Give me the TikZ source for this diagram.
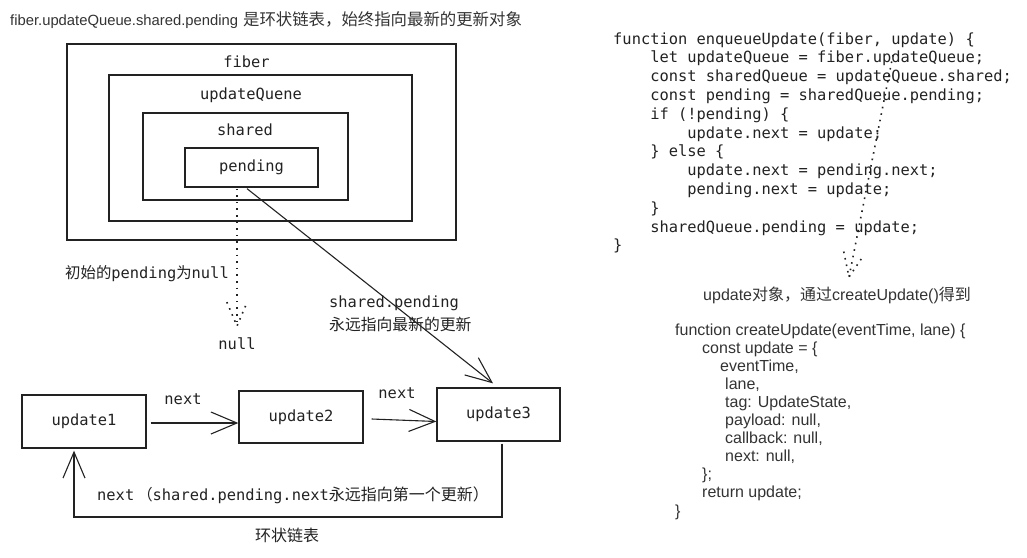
\documentclass[tikz,border=0pt]{standalone}
\usepackage{fontspec}
\setmainfont{Liberation Sans}
\setmonofont{DejaVu Sans Mono}
\newfontfamily\cjk{Noto Sans CJK SC}
\usetikzlibrary{arrows.meta,calc}
\definecolor{ink}{HTML}{222222}
\definecolor{txt}{HTML}{333333}
\begin{document}
\begin{tikzpicture}[x=1pt,y=-1pt,
  box/.style={draw=ink, line width=1.3pt, inner sep=0pt},
  mono/.style={font=\ttfamily\fontsize{15.4}{18}\selectfont, text=ink, inner sep=0pt},
  sans/.style={font=\fontsize{16}{18}\selectfont, text=txt, inner sep=0pt},
  codeline/.style={mono, anchor=west, text height=11pt, text depth=3pt},
  sline/.style={sans, anchor=west, text height=11pt, text depth=3pt},
  arr/.style={draw=ink, line width=1.1pt, -{Straight Barb[length=26pt,width=22pt]}},
  dots/.style={draw=ink, line width=1.6pt, dash pattern=on 1.6pt off 5pt},
]
\useasboundingbox (0,0) rectangle (1027,557);

% title
\node[sans, anchor=west, font=\fontsize{14.8}{18}\selectfont] (title) at (10,20)
  {fiber.updateQueue.shared.pending\hspace{5pt}{\cjk\fontsize{16.4}{18}\selectfont 是环状链表，始终指向最新的更新对象}};

% nested boxes
\node[box, minimum width=389pt, minimum height=196pt] (fiber) at (261.5,142) {};
\node[box, minimum width=303pt, minimum height=146pt] (queue) at (260.5,148) {};
\node[box, minimum width=205pt, minimum height=87pt] (shared) at (245.5,156.5) {};
\node[box, mono, minimum width=133pt, minimum height=39pt] (pending) at (251.5,167.5) {pending};
\node[mono] (fiberlbl) at (246.5,62) {fiber};
\node[mono] (queuelbl) at (251,95) {updateQuene};
\node[mono] (sharedlbl) at (245,130) {shared};

% null branch (dotted)
\coordinate (nullstart) at ($(pending.south)+(-14.5,1)$);
\coordinate (nulltip) at (237,326);
\draw[dots] (nullstart) -- (nulltip);
\draw[dots] ($(nulltip)!26pt!23:(nullstart)$) -- (nulltip) -- ($(nulltip)!26pt!-23:(nullstart)$);
\node[mono] (nulllbl) at (237,344) {null};
\node[mono, anchor=west] (initlbl) at (65,274) {{\cjk 初始的}pending{\cjk 为}null};

% update boxes
\node[box, mono, minimum width=124pt, minimum height=53pt] (u1) at (84,421.5) {update1};
\node[box, mono, minimum width=124pt, minimum height=52pt] (u2) at (301,417) {update2};
\node[box, mono, minimum width=123pt, minimum height=53pt] (u3) at (498.5,414.5) {update3};

% pending -> update3
\draw[arr] ($(pending.south)+(-4.5,1)$) -- ($(u3.north)+(-5.5,-4)$);
\node[mono, anchor=west] (splbl1) at (329,303) {shared.pending};
\node[mono, anchor=west] (splbl2) at (329,324) {\cjk\fontsize{15.8}{18}\selectfont 永远指向最新的更新};

% next arrows
\draw[arr] ($(u1.east)+(4,1.5)$) -- ($(u1.east -| u2.west)+(0,1.5)$);
\node[mono] (next1) at (183,399) {next};
\draw[arr] ($(u2.east)+(8,2)$) -- ($(u2.east -| u3.west)+(0,4.5)$);
\node[mono] (next2) at (397,393) {next};

% loop back
\coordinate (lr) at (502,517);
\coordinate (ll) at (74,517);
\draw[arr] ($(u3.south -| lr)+(0,2)$) -- (lr) -- (ll) -- ($(ll |- u1.south)+(0,2)$);
\node[mono, anchor=west] (looplbl) at (97,495) {next\hspace{3pt}{\cjk （}shared.pending.next{\cjk\fontsize{16}{18}\selectfont 永远指向第一个更新）}};
\node[mono] (ringlbl) at (287,535) {\cjk\fontsize{16}{18}\selectfont 环状链表};

% enqueueUpdate code
\newcommand\ia{\phantom{0000}}
\newcommand\ib{\phantom{00000000}}
\node[codeline] (c1) at (613,40.0) {function enqueueUpdate(fiber, update) \{};
\node[codeline] (c2) at (613,58.8) {\ia let updateQueue = fiber.updateQueue;};
\node[codeline] (c3) at (613,77.6) {\ia const sharedQueue = updateQueue.shared;};
\node[codeline] (c4) at (613,96.4) {\ia const pending = sharedQueue.pending;};
\node[codeline] (c5) at (613,115.2) {\ia if (!pending) \{};
\node[codeline] (c6) at (613,134.0) {\ib update.next = update;};
\node[codeline] (c7) at (613,152.8) {\ia \} else \{};
\node[codeline] (c8) at (613,171.6) {\ib update.next = pending.next;};
\node[codeline] (c9) at (613,190.4) {\ib pending.next = update;};
\node[codeline] (c10) at (613,209.2) {\ia \}};
\node[codeline] (c11) at (613,228.0) {\ia sharedQueue.pending = update;};
\node[codeline] (c12) at (613,246.8) {\}};

% dotted pointer from code to update object
\coordinate (codestart) at (893,55);
\coordinate (codetip) at (849,277);
\draw[dots] (codestart) -- (codetip);
\draw[dots] ($(codetip)!26pt!23:(codestart)$) -- (codetip) -- ($(codetip)!26pt!-23:(codestart)$);

% createUpdate
\node[sans, anchor=west] (objlbl) at (703,295) {update{\cjk 对象，通过}createUpdate(){\cjk 得到}};
\node[sline] (s1) at (675,331) {function createUpdate(eventTime, lane) \{};
\node[sline] (s2) at (702,349.1) {const update = \{};
\node[sline] (s3) at (720,367.2) {eventTime,};
\node[sline] (s4) at (725,385.3) {lane,};
\node[sline] (s5) at (725,403.4) {tag: UpdateState,};
\node[sline] (s6) at (725,421.5) {payload: null,};
\node[sline] (s7) at (725,439.6) {callback: null,};
\node[sline] (s8) at (725,457.7) {next: null,};
\node[sline] (s9) at (702,475.8) {\};};
\node[sline] (s10) at (702,493.9) {return update;};
\node[sline] (s11) at (675,512) {\}};
\end{tikzpicture}
\end{document}
